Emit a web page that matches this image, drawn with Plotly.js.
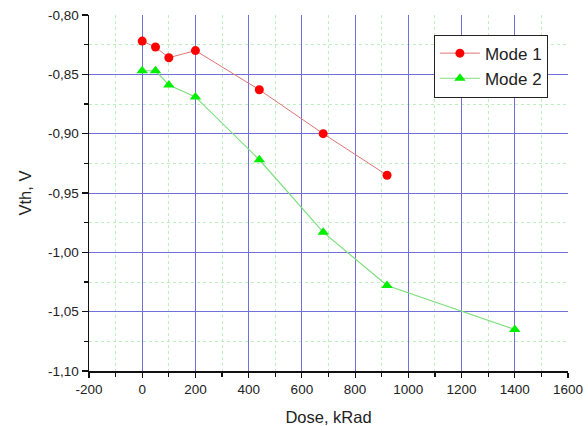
<!DOCTYPE html>
<html>
<head>
<meta charset="utf-8">
<script src="https://cdn.plot.ly/plotly-3.0.1.min.js"></script>
<style>
  html, body { margin: 0; padding: 0; background: #fff; }
  #chart { width: 588px; height: 426px; }
</style>
</head>
<body>
<div id="chart"></div>
<script>
// Threshold voltage versus absorbed dose, two operating modes
const mode1Dose = [0, 50, 100, 200, 440, 680, 920];
const mode1Vth  = [-0.822, -0.827, -0.836, -0.830, -0.863, -0.900, -0.935];

const mode2Dose = [0, 50, 100, 200, 440, 680, 920, 1400];
const mode2Vth  = [-0.847, -0.847, -0.859, -0.869, -0.922, -0.983, -1.028, -1.065];

const xTickVals = [-200, 0, 200, 400, 600, 800, 1000, 1200, 1400, 1600];
const xTickText = ['-200', '0', '200', '400', '600', '800', '1000', '1200', '1400', '1600'];
const yTickVals = [-1.10, -1.05, -1.00, -0.95, -0.90, -0.85, -0.80];
const yTickText = ['-1,10', '-1,05', '-1,00', '-0,95', '-0,90', '-0,85', '-0,80'];

const font = 'Liberation Sans, Arial, sans-serif';

const traces = [
  {
    x: mode1Dose, y: mode1Vth, name: 'Mode 1', type: 'scatter', mode: 'lines+markers',
    line: { color: '#e07474', width: 1 },
    marker: { symbol: 'circle', size: 9, color: '#ff0000' }
  },
  {
    x: mode2Dose, y: mode2Vth, name: 'Mode 2', type: 'scatter', mode: 'lines+markers',
    line: { color: '#7ee07e', width: 1.2 },
    marker: { symbol: 'triangle-up', size: 10, color: '#00ee00' }
  }
];

const layout = {
  width: 588, height: 426,
  margin: { l: 89, r: 20, t: 15, b: 55 },
  paper_bgcolor: '#ffffff', plot_bgcolor: '#ffffff',
  font: { family: font, color: '#222', size: 13.5 },
  showlegend: true,
  legend: {
    x: 0.72, y: 0.945, xanchor: 'left', yanchor: 'top',
    bgcolor: '#ffffff', bordercolor: '#222', borderwidth: 1,
    itemwidth: 40, tracegroupgap: 0,
    font: { family: font, size: 17, color: '#222' }
  },
  xaxis: {
    range: [-200, 1600], tickmode: 'array', tickvals: xTickVals, ticktext: xTickText,
    showline: true, linecolor: '#111', linewidth: 1.5, mirror: false,
    ticks: 'outside', ticklen: 5, tickcolor: '#111', tickwidth: 1.2,
    showgrid: true, gridcolor: '#7070d8', gridwidth: 1, zeroline: false,
    minor: { tick0: -100, dtick: 100, ticks: 'outside', ticklen: 4, tickcolor: '#111',
             showgrid: true, gridcolor: '#bfeebf', griddash: 'dot', gridwidth: 1 },
    title: { text: 'Dose, kRad', font: { family: font, size: 16.5, color: '#222' }, standoff: 15 },
    tickfont: { family: font, size: 13.5, color: '#222' }
  },
  yaxis: {
    range: [-1.10, -0.80], tickmode: 'array', tickvals: yTickVals, ticktext: yTickText,
    showline: true, linecolor: '#111', linewidth: 1.5, mirror: false,
    ticks: 'outside', ticklen: 6, tickcolor: '#111', tickwidth: 1.2,
    showgrid: true, gridcolor: '#7070d8', gridwidth: 1, zeroline: false,
    minor: { tick0: -0.825, dtick: 0.05, ticks: 'outside', ticklen: 4, tickcolor: '#111',
             showgrid: true, gridcolor: '#bfeebf', griddash: 'dot', gridwidth: 1 },
    title: { text: 'Vth, V', font: { family: font, size: 16.5, color: '#222' }, standoff: 12 },
    tickfont: { family: font, size: 13.5, color: '#222' }
  }
};

Plotly.newPlot('chart', traces, layout, { staticPlot: true, displayModeBar: false });
</script>
</body>
</html>
